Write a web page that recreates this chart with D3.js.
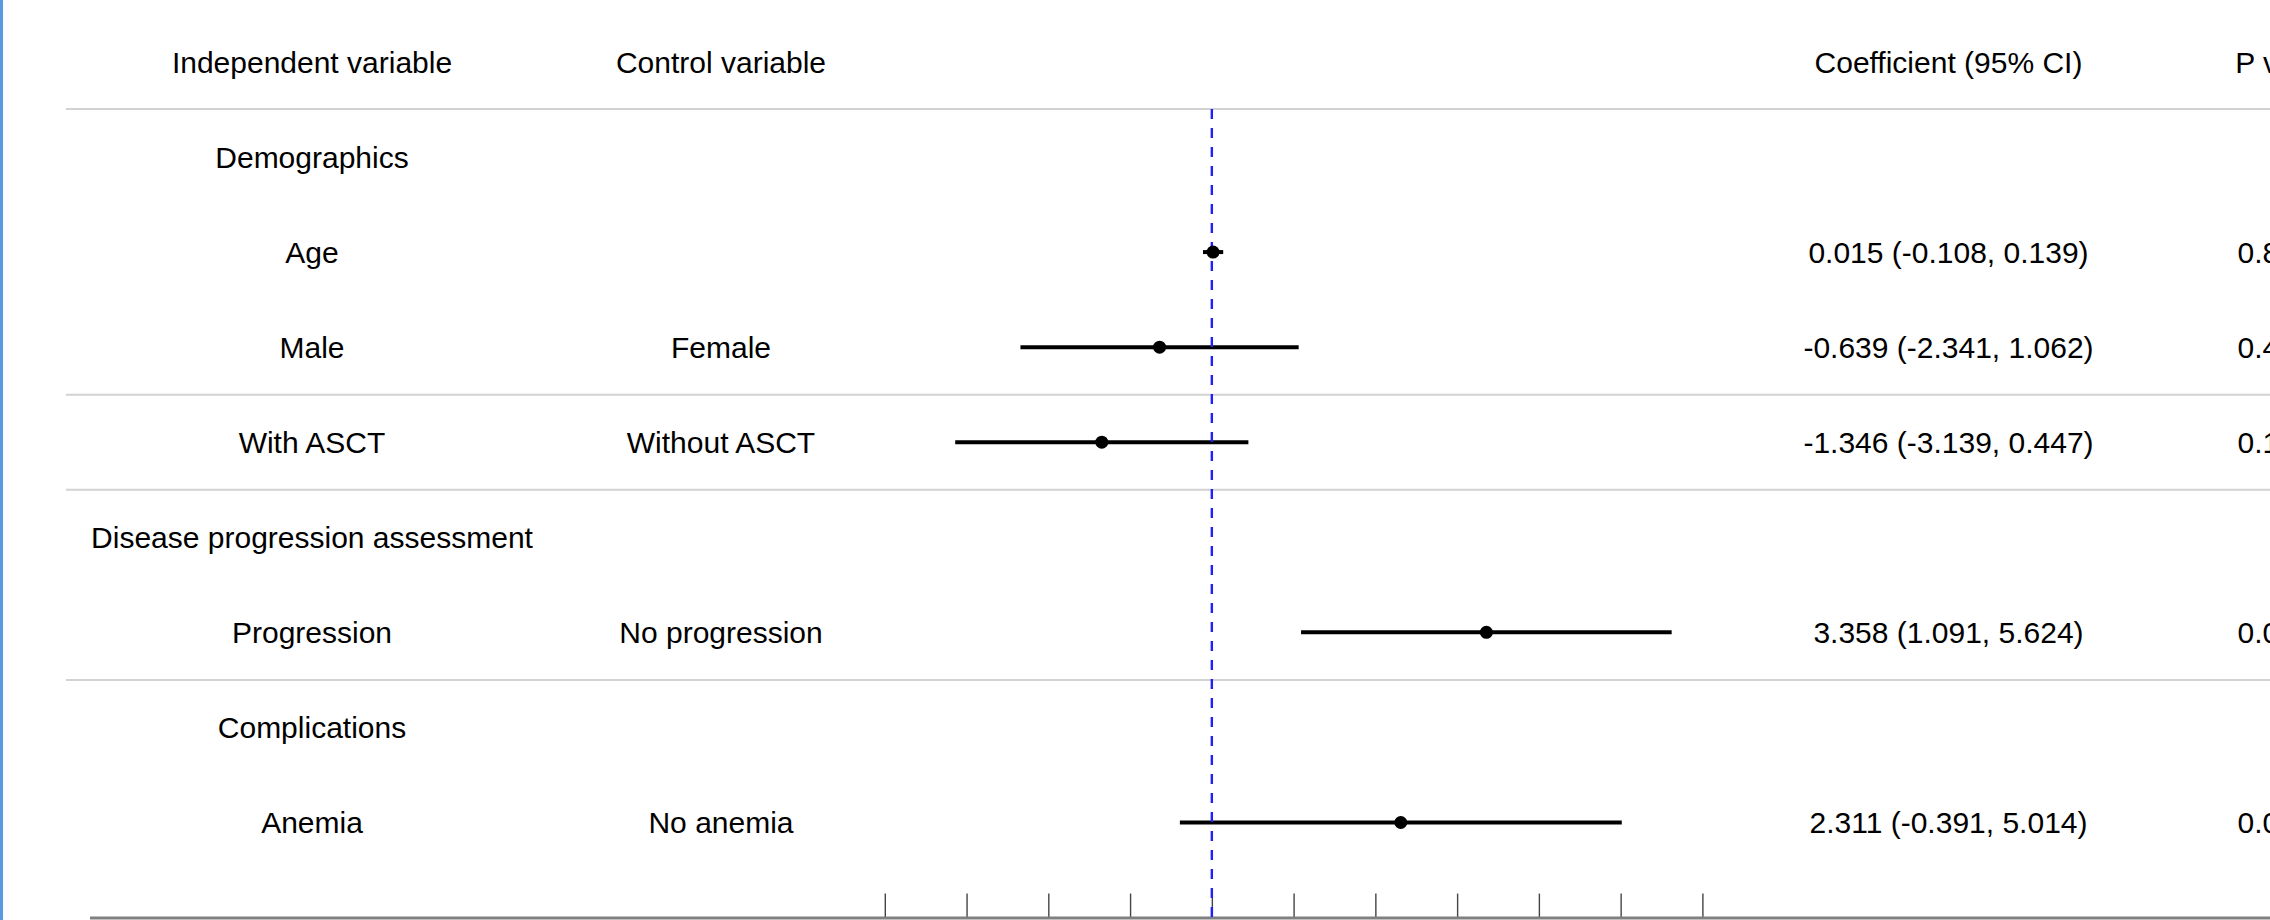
<!DOCTYPE html>
<html>
<head>
<meta charset="utf-8">
<script src="https://cdn.jsdelivr.net/npm/d3@7"></script>
<style>
  body { margin: 0; background: #fff; }
  svg { display: block; }
  text { font-family: "Liberation Sans", Arial, Helvetica, sans-serif; font-size: 30px; fill: #000; }
</style>
</head>
<body>
<svg id="forest"></svg>
<script>
// table rows, top to bottom
var independent = ["Demographics", "Age", "Male", "With ASCT", "Disease progression assessment", "Progression", "Complications", "Anemia"];
var controls = ["", "", "Female", "Without ASCT", "", "No progression", "", "No anemia"];
var separatorAfter = ["Male", "With ASCT", "Progression"];

// estimates
var estRows = ["Age", "Male", "With ASCT", "Progression", "Anemia"];
var coef = [0.015, -0.639, -1.346, 3.358, 2.311];
var ciLow = [-0.108, -2.341, -3.139, 1.091, -0.391];
var ciHigh = [0.139, 1.062, 0.447, 5.624, 5.014];
var pValues = ["0.812", "0.462", "0.141", "0.004", "0.094"];

var headers = ["Independent variable", "Control variable", "Coefficient (95% CI)", "P value"];
var xTicks = [-4, -3, -2, -1, 0, 1, 2, 3, 4, 5, 6];

var W = 2270, H = 920;
var col1 = 312, col2 = 721, col3 = 1948.5, col4 = 2275;

var svg = d3.select('#forest').attr('width', W).attr('height', H);

var y = d3.scalePoint().domain(independent).range([157, 822.5]);
var step = y.step();
var headerY = y(independent[0]) - step;
var topLine = y(independent[0]) - step / 2 - 0.5;
var axisY = y(independent[independent.length - 1]) + step;

var x = d3.scaleLinear().domain([-4, 6]).range([884.8, 1702.4]);

// left border
svg.append("rect")
  .attr("x", 0).attr("y", 0)
  .attr("width", 3).attr("height", H)
  .attr("fill", "#5a9be0");

// header texts
var headX = [col1, col2, col3, col4 + 10];
svg.selectAll("text.head")
  .data(headers)
  .enter().append("text")
  .attr("class", "head")
  .attr("x", function(d, i) { return headX[i]; })
  .attr("y", headerY)
  .attr("dy", "0.36em")
  .attr("text-anchor", "middle")
  .text(function(d) { return d; });

// horizontal rules
var rules = [topLine].concat(separatorAfter.map(function(d) { return y(d) + step / 2; }));
svg.selectAll("line.rule")
  .data(rules)
  .enter().append("line")
  .attr("class", "rule")
  .attr("x1", 66).attr("x2", W)
  .attr("y1", function(d) { return d; })
  .attr("y2", function(d) { return d; })
  .attr("stroke", "#d2d2d2")
  .attr("stroke-width", 2);

// row labels
svg.selectAll("text.indep")
  .data(independent)
  .enter().append("text")
  .attr("class", "indep")
  .attr("x", col1)
  .attr("y", function(d) { return y(d); })
  .attr("dy", "0.36em")
  .attr("text-anchor", "middle")
  .text(function(d) { return d; });

svg.selectAll("text.ctrl")
  .data(controls)
  .enter().append("text")
  .attr("class", "ctrl")
  .attr("x", col2)
  .attr("y", function(d, i) { return y(independent[i]); })
  .attr("dy", "0.36em")
  .attr("text-anchor", "middle")
  .text(function(d) { return d; });

var est = estRows.map(function(d, i) {
  return { row: d, b: coef[i], lo: ciLow[i], hi: ciHigh[i], p: pValues[i] };
});

svg.selectAll("text.coef")
  .data(est)
  .enter().append("text")
  .attr("class", "coef")
  .attr("x", col3)
  .attr("y", function(d) { return y(d.row); })
  .attr("dy", "0.36em")
  .attr("text-anchor", "middle")
  .text(function(d) { return d.b.toFixed(3) + " (" + d.lo.toFixed(3) + ", " + d.hi.toFixed(3) + ")"; });

svg.selectAll("text.pval")
  .data(est)
  .enter().append("text")
  .attr("class", "pval")
  .attr("x", col4)
  .attr("y", function(d) { return y(d.row); })
  .attr("dy", "0.36em")
  .attr("text-anchor", "middle")
  .text(function(d) { return d.p; });

// bottom axis, ticks pointing up
var axis = svg.append("g")
  .attr("transform", "translate(0," + axisY + ")")
  .call(d3.axisTop(x).tickValues(xTicks).tickSizeInner(24).tickSizeOuter(0).tickFormat(""));
axis.select(".domain").remove();
axis.selectAll(".tick line").attr("stroke", "#444").attr("stroke-width", 1.4);

svg.append("line")
  .attr("x1", 90).attr("x2", W)
  .attr("y1", axisY + 0.5).attr("y2", axisY + 0.5)
  .attr("stroke", "#808080")
  .attr("stroke-width", 3);

// confidence intervals
svg.selectAll("line.ci")
  .data(est)
  .enter().append("line")
  .attr("class", "ci")
  .attr("x1", function(d) { return x(d.lo); })
  .attr("x2", function(d) { return x(d.hi); })
  .attr("y1", function(d) { return y(d.row); })
  .attr("y2", function(d) { return y(d.row); })
  .attr("stroke", "#000")
  .attr("stroke-width", 4);

// zero reference
svg.append("line")
  .attr("x1", x(0)).attr("x2", x(0))
  .attr("y1", topLine).attr("y2", axisY + 2)
  .attr("stroke", "#1f1fff")
  .attr("stroke-width", 2.4)
  .attr("stroke-dasharray", "10,9");

svg.selectAll("circle.pt")
  .data(est)
  .enter().append("circle")
  .attr("class", "pt")
  .attr("cx", function(d) { return x(d.b); })
  .attr("cy", function(d) { return y(d.row); })
  .attr("r", 6.5)
  .attr("fill", "#000");
</script>
</body>
</html>
